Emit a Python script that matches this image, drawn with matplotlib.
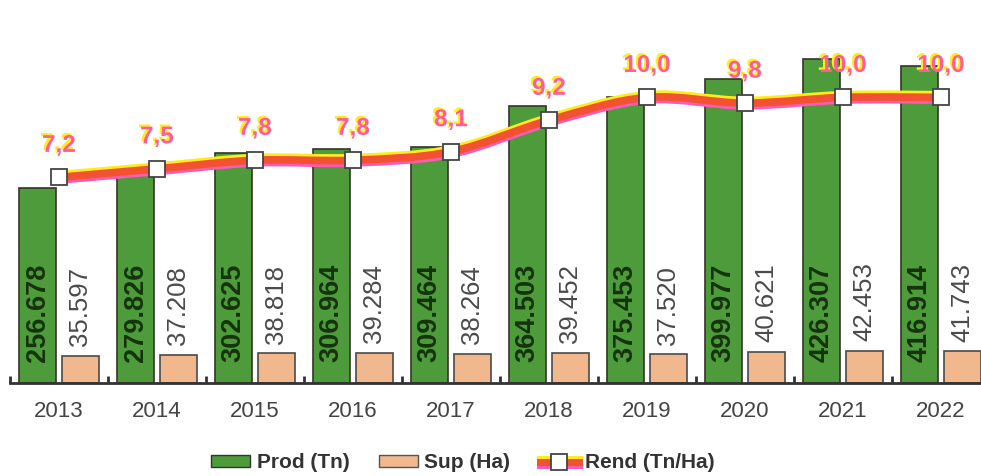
import matplotlib.pyplot as plt
import matplotlib.patheffects as pe
import numpy as np
from matplotlib.lines import Line2D
from matplotlib.patches import Patch, PathPatch
from matplotlib.path import Path

plt.rcParams["font.family"] = ["Liberation Sans", "DejaVu Sans"]

years = ["2013", "2014", "2015", "2016", "2017", "2018", "2019", "2020", "2021", "2022"]
prod_tn = [256678, 279826, 302625, 306964, 309464, 364503, 375453, 399977, 426307, 416914]
sup_ha = [35597, 37208, 38818, 39284, 38264, 39452, 37520, 40621, 42453, 41743]
rend = [7.2, 7.5, 7.8, 7.8, 8.1, 9.2, 10.0, 9.8, 10.0, 10.0]

GREEN = "#4d9b3a"
PEACH = "#f0b88c"
RED = "#f25232"
YELLOW = "#ffec1a"
PINK = "#ff5ab4"


def fmt_dots(v):
    return f"{v:,}".replace(",", ".")


def smooth_path(xs, ys):
    # catmull-rom style bezier through the points
    pts = np.column_stack([xs, ys]).astype(float)
    ext = np.vstack([pts[0], pts, pts[-1]])
    verts = [pts[0]]
    codes = [Path.MOVETO]
    for i in range(len(pts) - 1):
        p0, p1, p2, p3 = ext[i], ext[i + 1], ext[i + 2], ext[i + 3]
        verts += [p1 + (p2 - p0) / 6, p2 - (p3 - p1) / 6, p2]
        codes += [Path.CURVE4] * 3
    return Path(verts, codes)


fig = plt.figure(figsize=(9.81, 4.76), dpi=100)
ax = fig.add_axes([10 / 981, 93 / 476, 980 / 981, 363 / 476])
x = np.arange(len(years))

ax.bar(x - 0.219, prod_tn, width=0.378, color=GREEN, edgecolor="#35352a", linewidth=1.2, zorder=2)
ax.bar(x + 0.219, sup_ha, width=0.378, color=PEACH, edgecolor="#4a4a4a", linewidth=1.2, zorder=2)

for xi, v in zip(x, prod_tn):
    ax.annotate(fmt_dots(v), (xi - 0.219, 0), xytext=(0, 15), textcoords="offset points",
                rotation=90, ha="center", va="bottom", fontsize=19.5, fontweight="bold",
                color="#16330c", zorder=3)
for xi, v in zip(x, sup_ha):
    ax.annotate(fmt_dots(v), (xi + 0.219, v), xytext=(0, 7), textcoords="offset points",
                rotation=90, ha="center", va="bottom", fontsize=18.5, color="#4a4a4a", zorder=3)

ax.set_xlim(-0.5, 9.5)
ax.set_ylim(0, 477000)
ax.set_xticks(x, labels=years)
ax.set_xticks(np.arange(-0.5, 10, 1), minor=True)
ax.tick_params(axis="x", which="major", length=0, pad=13, labelsize=16, labelcolor="#444444")
ax.tick_params(axis="x", which="minor", direction="in", length=5, width=2, color="#333333")
ax.set_yticks([])
for s in ["top", "left", "right"]:
    ax.spines[s].set_visible(False)
ax.spines["bottom"].set_color("#333333")
ax.spines["bottom"].set_linewidth(2)

ax2 = ax.twinx()
ax2.set_ylim(0, 12.71)
ax2.axis("off")

line_fx = [pe.Stroke(offset=(0, 2.2), linewidth=5, foreground=YELLOW),
           pe.Stroke(offset=(0, -2.2), linewidth=5, foreground=PINK),
           pe.Normal()]
curve = PathPatch(smooth_path(x, rend), fill=False, edgecolor=RED, linewidth=5.5,
                  capstyle="round", joinstyle="round", zorder=4)
curve.set_path_effects(line_fx)
ax2.add_patch(curve)
ax2.plot(x, rend, ls="none", marker="s", ms=11, mfc="white", mec="#444444", mew=1.3, zorder=5)

txt_fx = [pe.withSimplePatchShadow(offset=(-1.5, 1.5), shadow_rgbFace=YELLOW, alpha=1)]
for xi, v in zip(x, rend):
    t = ax2.annotate(f"{v:.1f}".replace(".", ","), (xi, v), xytext=(0, 23), textcoords="offset points",
                     ha="center", va="center", fontsize=17.5, fontweight="bold", color="#ff5c9c", zorder=6)
    t.set_path_effects(txt_fx)

h_prod = Patch(facecolor=GREEN, edgecolor="#333333")
h_sup = Patch(facecolor=PEACH, edgecolor="#555555")
h_line = Line2D([], [], color=RED, linewidth=5, path_effects=line_fx)
h_mark = Line2D([], [], ls="none", marker="s", ms=11, mfc="white", mec="#444444", mew=1.3)
fig.legend([h_prod, h_sup, (h_line, h_mark)], ["Prod (Tn)", "Sup (Ha)", "Rend (Tn/Ha)"],
           loc="center", bbox_to_anchor=(463 / 981, 13 / 476), ncol=3, frameon=False,
           prop={"size": 15, "weight": "bold"}, labelcolor="#333333",
           handlelength=1.9, handleheight=0.55, handletextpad=0.3, columnspacing=1.4)

fig.savefig("out.png", dpi=100)
